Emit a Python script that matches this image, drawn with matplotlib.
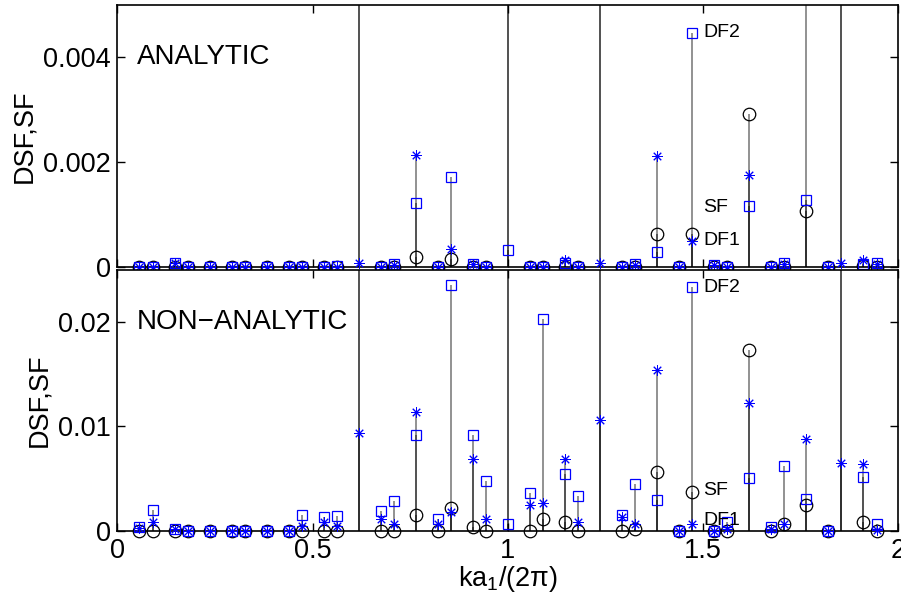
import matplotlib

matplotlib.use("Agg")

import matplotlib.pyplot as plt
import numpy as np

plt.rcParams["font.family"] = ["Liberation Sans", "DejaVu Sans"]
plt.rcParams["mathtext.fontset"] = "custom"
plt.rcParams["mathtext.rm"] = "Liberation Sans"
plt.rcParams["mathtext.default"] = "rm"

# wave-vector positions ka1/(2pi)
KA = [0.056, 0.090, 0.146, 0.180, 0.236, 0.292, 0.326, 0.382, 0.438, 0.472,
      0.528, 0.562, 0.618, 0.674, 0.708, 0.764, 0.820, 0.854, 0.910, 0.944,
      1.000, 1.056, 1.090, 1.146, 1.180, 1.236, 1.292, 1.326, 1.382, 1.438,
      1.472, 1.528, 1.562, 1.618, 1.674, 1.708, 1.764, 1.820, 1.854, 1.910,
      1.944]

# 1.0 marks Bragg peaks far above the visible range
SF_ANALYTIC = [0, 0, 0, 0, 0, 0, 0, 0, 0, 0,
               0, 0, 1.0, 0, 0, 0.00019, 0, 0.00015, 0, 0,
               1.0, 0, 0, 0, 0, 1.0, 0, 0, 0.00063, 0,
               0.00063, 0, 0, 0.00291, 0, 0, 0.00107, 0, 1.0, 0.00002,
               0]
DF1_ANALYTIC = [0, 0, 0.00007, 0, 0, 0, 0, 0, 0, 0,
                0, 0, 0.00007, 0, 0.00003, 0.00214, 0, 0.00034, 0.00006, 0,
                1.0, 0, 0, 0.00013, 0, 0.00007, 0, 0.00003, 0.00212, 0,
                0.00050, 0.00004, 0, 0.00176, 0, 0.00005, 1.0, 0, 0.00007, 0.00013,
                0.00005]
DF2_ANALYTIC = [0, 0, 0.00008, 0, 0, 0, 0, 0, 0, 0,
                0, 0.00002, 1.0, 0, 0.00005, 0.00122, 0, 0.00171, 0.00006, 0,
                0.00031, 0, 0, 0.00007, 0, 1.0, 0, 0.00005, 0.00029, 0,
                0.00447, 0.00004, 0, 0.00116, 0, 0.00008, 0.00128, 0, 1.0, 0.00006,
                0.00008]

SF_NONANALYTIC = [0, 0, 0, 0, 0, 0, 0, 0, 0, 0,
                  0, 0, 1.0, 0, 0, 0.00148, 0, 0.00222, 0.00036, 0,
                  1.0, 0, 0.00117, 0.00084, 0, 1.0, 0, 0.0002, 0.00563, 0,
                  0.00371, 0, 0, 0.01734, 0, 0.00062, 0.00244, 0, 1.0, 0.00084,
                  0]
DF1_NONANALYTIC = [0.0003, 0.00084, 0.00015, 0, 0, 0, 0, 0, 0, 0.00043,
                   0.00084, 0.00043, 0.0094, 0.00117, 0.00062, 0.01137, 0.0006, 0.0018, 0.00691, 0.00117,
                   1.0, 0.00244, 0.00266, 0.0069, 0.00084, 0.01057, 0.00132, 0.00069, 0.01543, 0,
                   0.00062, 0, 0.0002, 0.01227, 0.0002, 0.0006, 0.00882, 0, 0.00649, 0.00643,
                   0.0001]
DF2_NONANALYTIC = [0.00036, 0.00203, 0.0002, 0, 0, 0, 0, 0, 0, 0.00148,
                   0.00132, 0.00139, 1.0, 0.0019, 0.00285, 0.00914, 0.00117, 0.02356, 0.00914, 0.00477,
                   0.00069, 0.00362, 0.0203, 0.0054, 0.0033, 1.0, 0.00148, 0.00452, 0.00292, 0,
                   0.0234, 0, 0.00084, 0.00509, 0.00036, 0.0062, 0.00301, 0, 1.0, 0.00515,
                   0.00062]

PANELS = [
    ("ANALYTIC", SF_ANALYTIC, DF1_ANALYTIC, DF2_ANALYTIC, 0.005, [0, 0.002, 0.004], ["0", "0.002", "0.004"],
     {"DF2": 0.00447, "SF": 0.00113, "DF1": 0.0005}),
    ("NON\u2212ANALYTIC", SF_NONANALYTIC, DF1_NONANALYTIC, DF2_NONANALYTIC, 0.025, [0, 0.01, 0.02],
     ["0", "0.01", "0.02"], {"DF2": 0.02336, "SF": 0.00384, "DF1": 0.00098}),
]

ASTERISK = (8, 2, 0)
FS = 19.5

fig = plt.figure(figsize=(9.01, 5.98), dpi=100)
axes = [fig.add_axes([0.1304, 0.554, 0.8668, 0.4376]),
        fig.add_axes([0.1304, 0.1125, 0.8668, 0.436])]

ka = np.asarray(KA)
for ax, (title, sf, df1, df2, ytop, yticks, yticklabels, notes) in zip(axes, PANELS):
    series = [
        (np.asarray(sf), dict(marker="o", ms=9, mfc="none", mec="k", mew=0.9)),
        (np.asarray(df1), dict(marker=ASTERISK, ms=7.5, mfc="none", mec=(0, 0, 1), mew=0.7)),
        (np.asarray(df2), dict(marker="s", ms=6.5, mfc="none", mec=(0, 0, 1), mew=0.9)),
    ]
    for vals, _ in series:
        ax.vlines(ka, 0, vals, colors="k", alpha=0.5, lw=1.2)
    for vals, style in series:
        shown = vals <= ytop
        ax.plot(ka[shown], vals[shown], ls="none", clip_on=False, zorder=3, **style)

    ax.set_xlim(0, 2)
    ax.set_ylim(0, ytop)
    ax.set_xticks([0, 0.5, 1, 1.5, 2])
    ax.set_yticks(yticks)
    ax.set_yticklabels(yticklabels)
    ax.tick_params(direction="in", length=6, width=1, top=True, right=True, labelsize=FS, pad=5)
    for spine in ax.spines.values():
        spine.set_linewidth(1.2)
    ax.set_ylabel("DSF,SF", fontsize=FS)
    ax.text(0.05, yticks[-1], title, fontsize=20, va="center", ha="left")
    for name, yv in notes.items():
        ax.text(1.5, yv, name, fontsize=14, va="center", ha="left")

axes[0].tick_params(labelbottom=False)
axes[1].set_xticklabels(["0", "0.5", "1", "1.5", "2"])
axes[1].set_xlabel("ka$_1$/(2\u03c0)", fontsize=FS, labelpad=0)

fig.savefig("out.png", dpi=100)
